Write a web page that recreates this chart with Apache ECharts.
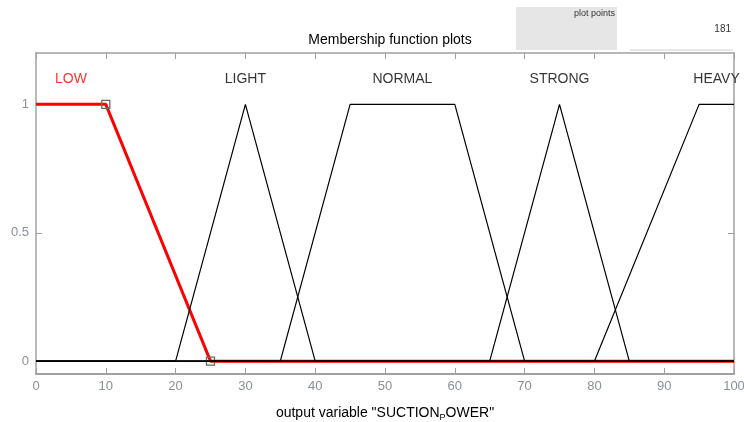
<!DOCTYPE html>
<html>
<head>
<meta charset="utf-8">
<script src="https://cdn.jsdelivr.net/npm/echarts@6/dist/echarts.min.js"></script>
<style>
  html, body { margin: 0; padding: 0; background: #ffffff; }
  #chart { width: 744px; height: 422px; }
</style>
</head>
<body>
<div id="chart"></div>
<script>
// Output variable range and tick labels
const xTicks = [0, 10, 20, 30, 40, 50, 60, 70, 80, 90, 100];
const yTicks = [0, 0.5, 1];

// Membership functions, given by their break points over [0, 100]
const mfNames = ['LOW', 'LIGHT', 'NORMAL', 'STRONG', 'HEAVY'];
const lowX = [0, 10, 25, 100];
const lowY = [1, 1, 0, 0];
const lightX = [0, 20, 30, 40, 100];
const lightY = [0, 0, 1, 0, 0];
const normalX = [0, 35, 45, 60, 70, 100];
const normalY = [0, 0, 1, 1, 0, 0];
const strongX = [0, 65, 75, 85, 100];
const strongY = [0, 0, 1, 0, 0];
const heavyX = [0, 80, 95, 100];
const heavyY = [0, 0, 1, 1];

// Label positions: centre of each function's plateau / peak
const labelX = [5, 30, 52.5, 75, 97.5];
const labelY = 1.1;

// Defining points of the selected function that carry markers
const lowMarkX = [10, 25];

const plotPoints = '181';

const toPairs = (xs, ys) => xs.map((x, i) => [x, ys[i]]);

const chart = echarts.init(document.getElementById('chart'));

const axisGray = '#a0a0a0';
const labelGray = '#8a8f98';
const baseFont = 'Liberation Sans, Arial, sans-serif';

const blackLine = (name, xs, ys) => ({
  name: name,
  type: 'line',
  data: toPairs(xs, ys),
  symbol: 'none',
  lineStyle: { color: '#000000', width: 1.2 },
  z: 3,
  animation: false
});

chart.setOption({
  animation: false,
  backgroundColor: '#ffffff',
  title: {
    text: 'Membership function plots',
    left: 385,
    top: 28,
    textAlign: 'center',
    textStyle: { fontFamily: baseFont, fontSize: 14, fontWeight: 'normal', color: '#000000' }
  },
  graphic: [
    { type: 'rect', shape: { x: 516, y: 7, width: 101, height: 43 }, style: { fill: '#e6e6e6' }, silent: true },
    { type: 'text', style: { x: 615, y: 9, text: 'plot points', textAlign: 'right', font: '9px "Liberation Sans Narrow", Arial, sans-serif', fill: '#333333' } },
    { type: 'text', style: { x: 731, y: 24, text: plotPoints, textAlign: 'right', font: '10px "Liberation Sans Narrow", Arial, sans-serif', fill: '#333333' } },
    { type: 'line', shape: { x1: 630, y1: 50, x2: 733, y2: 50 }, style: { stroke: '#d0d0d0', lineWidth: 1 } }
  ],
  grid: { left: 36, right: 10, top: 53, bottom: 48, show: false, outerBoundsMode: 'none', containLabel: false },
  xAxis: [
    {
      type: 'value', min: 0, max: 100, interval: 10, position: 'bottom',
      name: 'output variable "SUCTION{s|P}OWER"',
      nameLocation: 'middle', nameGap: 31,
      nameTextStyle: {
        fontFamily: baseFont, fontSize: 14, color: '#000000',
        rich: { s: { fontFamily: baseFont, fontSize: 9, color: '#000000', verticalAlign: 'bottom', padding: [8, 0, 0, 0] } }
      },
      axisLine: { show: true, onZero: false, lineStyle: { color: axisGray, width: 2 } },
      axisTick: { show: true, inside: true, length: 6, lineStyle: { color: axisGray, width: 1 } },
      axisLabel: { show: true, color: labelGray, fontFamily: baseFont, fontSize: 13, margin: 6,
        customValues: xTicks },
      splitLine: { show: false }
    },
    {
      type: 'value', min: 0, max: 100, interval: 10, position: 'top',
      axisLine: { show: true, onZero: false, lineStyle: { color: axisGray, width: 1.5 } },
      axisTick: { show: true, inside: true, length: 6, lineStyle: { color: axisGray, width: 1 } },
      axisLabel: { show: false },
      splitLine: { show: false }
    }
  ],
  yAxis: [
    {
      type: 'value', min: -0.05, max: 1.2, position: 'left',
      axisLine: { show: true, onZero: false, lineStyle: { color: axisGray, width: 1.5 } },
      axisTick: { show: true, inside: true, length: 6, customValues: yTicks, lineStyle: { color: axisGray, width: 1 } },
      axisLabel: { show: true, color: labelGray, fontFamily: baseFont, fontSize: 13, margin: 7, customValues: yTicks },
      splitLine: { show: false }
    },
    {
      type: 'value', min: -0.05, max: 1.2, position: 'right',
      axisLine: { show: true, onZero: false, lineStyle: { color: axisGray, width: 1.5 } },
      axisTick: { show: true, inside: true, length: 6, customValues: yTicks, lineStyle: { color: axisGray, width: 1 } },
      axisLabel: { show: false },
      splitLine: { show: false }
    }
  ],
  series: [
    {
      name: mfNames[0],
      type: 'line',
      data: toPairs(lowX, lowY).map(p => ({
        value: p,
        symbol: lowMarkX.includes(p[0]) ? 'rect' : 'none'
      })),
      symbolSize: 8,
      showAllSymbol: true,
      itemStyle: { color: 'rgba(0,0,0,0)', borderColor: '#6a6a6a', borderWidth: 1.3 },
      lineStyle: { color: '#ff0000', width: 3 },
      z: 2,
      animation: false
    },
    blackLine(mfNames[1], lightX, lightY),
    blackLine(mfNames[2], normalX, normalY),
    blackLine(mfNames[3], strongX, strongY),
    blackLine(mfNames[4], heavyX, heavyY),
    {
      name: 'labels',
      type: 'scatter',
      symbolSize: 0,
      data: mfNames.map((n, i) => ({
        value: [labelX[i], labelY],
        label: {
          show: true, formatter: n, position: 'inside',
          color: i === 0 ? '#ff0000' : '#000000',
          fontFamily: baseFont, fontSize: 14
        }
      })),
      silent: true,
      z: 5,
      animation: false
    }
  ]
});
</script>
</body>
</html>
